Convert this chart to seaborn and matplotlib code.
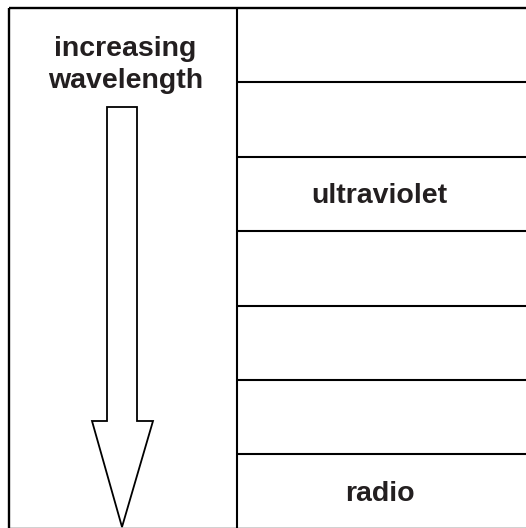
import matplotlib
matplotlib.use("Agg")
import matplotlib.pyplot as plt
from matplotlib.patches import Polygon, Rectangle
import seaborn as sns

# Data
row_labels = ["", "", "ultraviolet", "", "", "", "radio"]
header_lines = ["increasing", "wavelength"]

sns.set_theme(style="white")
plt.rcParams['font.family'] = ['Liberation Sans', 'DejaVu Sans']

W, H = 526, 528
fig = plt.figure(figsize=(W / 100, H / 100), dpi=100)
ax = fig.add_axes([0, 0, 1, 1])
ax.set_xlim(0, W)
ax.set_ylim(H, 0)
ax.axis("off")

left, top, mid, right = 9, 8, 237, 540
row_h = 74.4
n = len(row_labels)
bottom = top + n * row_h

# outer frame
ax.add_patch(Rectangle((left, top), right - left, bottom - top, fill=False,
                       edgecolor="black", linewidth=1.7, zorder=3))
ax.vlines(mid, top, bottom, color="black", linewidth=1.5)
for i in range(1, n):
    ax.hlines(top + i * row_h, mid, right, color="black", linewidth=1.5)

txt_color = "#231f20"
fs = 20.5
for i, lab in enumerate(row_labels):
    if lab:
        # baseline slightly below row centre
        ax.text(379.5, top + (i + 0.5) * row_h + 9, lab, ha="center",
                va="baseline", fontsize=fs, fontweight="bold", color=txt_color)

ax.text(125.5, 55.5, header_lines[0], ha="center", va="baseline", fontsize=fs,
        fontweight="bold", color=txt_color)
ax.text(126, 88, header_lines[1], ha="center", va="baseline", fontsize=fs,
        fontweight="bold", color=txt_color)

# arrow
arrow = [(107, 107), (137, 107), (137, 421), (153, 421), (122, 527),
         (92, 421), (107, 421)]
ax.add_patch(Polygon(arrow, closed=True, fill=False, edgecolor="black",
                     linewidth=1.3, joinstyle="miter", zorder=3))

fig.savefig("out.png", dpi=100)
